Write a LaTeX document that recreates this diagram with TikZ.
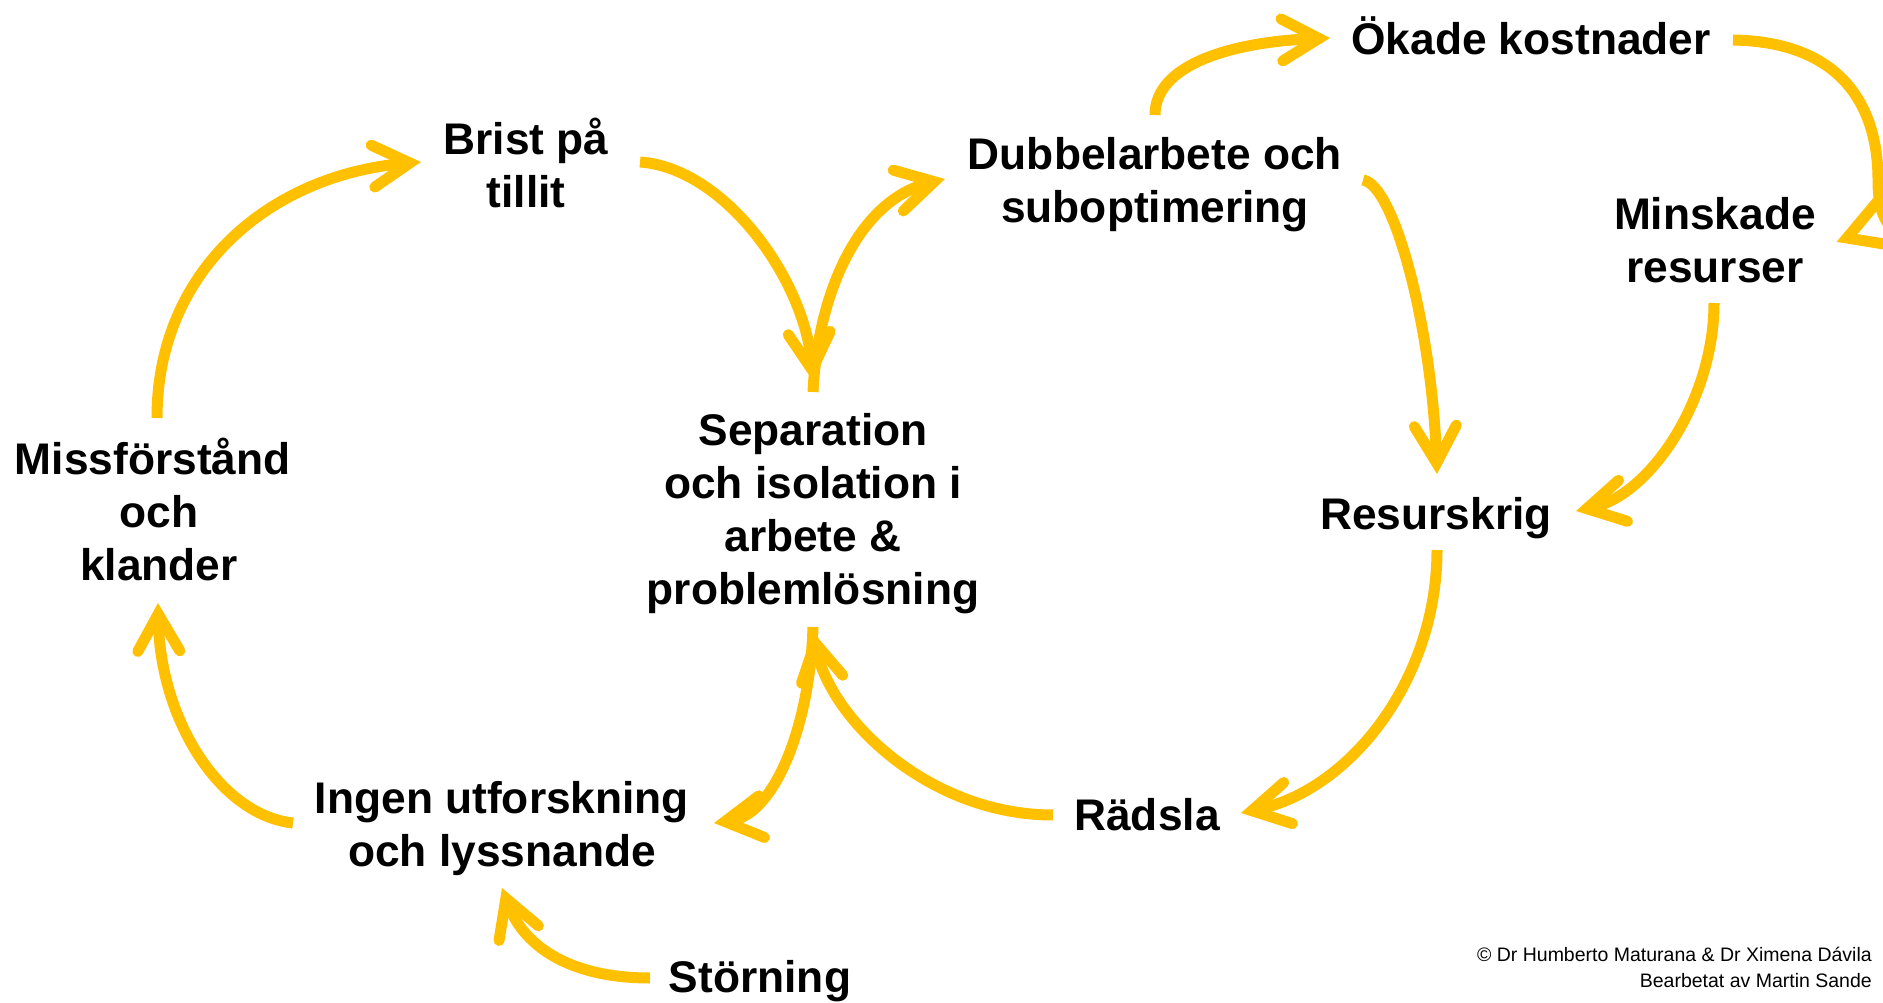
\documentclass[tikz,border=0pt]{standalone}
\usepackage{fontspec}
\setmainfont{Liberation Sans}
\usetikzlibrary{arrows.meta}
\definecolor{gold}{HTML}{FFC000}
\begin{document}
\begin{tikzpicture}[x=1pt,y=-1pt,
  lbl/.style={font=\bfseries\fontsize{44.3}{53}\selectfont, align=center, inner sep=0pt, text=black},
  conn/.style={line width=11pt, draw=gold, -{Straight Barb[length=37pt,width=42pt,line cap=round,line join=miter]}},
  plain/.style={line width=11pt, draw=gold},
  barb/.style={line width=11pt, draw=gold, line cap=round, line join=miter},
  credit/.style={font=\fontsize{19.5}{26}\selectfont, align=right, inner sep=0pt, anchor=north east}]
\fill[white] (0,0) rectangle (1883,1003);
\clip (0,0) rectangle (1883,1003);

\node[lbl] (brist) at (526,163) {Brist på\\tillit};
\node[lbl] (dubbel) at (1155,185) {Dubbelarbete och\\suboptimering};
\node[lbl] (okade) at (1531,36) {Ökade kostnader};
\node[lbl] (minskade) at (1715,240) {Minskade\\resurser};
\node[lbl] (resurs) at (1436,518) {Resurskrig};
\node[lbl] (radsla) at (1147,815) {Rädsla};
\node[lbl] (sep) at (813,514) {Separation\\och isolation i\\arbete \&\\problemlösning};
\node[lbl] (miss) at (159,509) {Missförstånd\hspace*{0.28em}\\och\\klander};
\node[lbl] (ingen) at (502,829) {Ingen utforskning\\och lyssnande};
\node[lbl] (storning) at (760,981) {Störning};
\node[credit] (credit) at (1872,947) {© Dr Humberto Maturana \& Dr Ximena Dávila\\Bearbetat av Martin Sande};

% Missförstånd -> Brist på tillit
\draw[conn] ([shift={(-2,-91)}]miss.center) .. controls +(0,-148) and +(-151,13) .. ([shift={(-105,-1)}]brist.center);
% Brist på tillit -> Separation
\draw[conn] ([shift={(114,-1)}]brist.center) .. controls +(85,6) and +(-8,-101) .. ([shift={(0,-133)}]sep.center);
% Separation -> Dubbelarbete
\draw[conn] ([shift={(0,-122)}]sep.center) .. controls +(5,-102) and +(-85,21) .. ([shift={(-210,-6)}]dubbel.center);
% Dubbelarbete -> Ökade kostnader
\draw[conn] ([shift={(0,-70)}]dubbel.center) .. controls +(0,-50) and +(-100,4) .. ([shift={(-201,2)}]okade.center);
% Ökade kostnader -> Minskade resurser (runs past the right edge)
\draw[plain] ([shift={(202,4)}]okade.center) .. controls +(112,2) and (1878,110) .. (1878,180) .. controls (1878,215) and (1888,230) .. (1905,236);
\draw[barb] ([shift={(168,-45)}]minskade.center) -- ([shift={(132,-2)}]minskade.center) -- ([shift={(175,5)}]minskade.center);
% Minskade resurser -> Resurskrig
\draw[conn] ([shift={(-1,63)}]minskade.center) .. controls +(0,97) and +(74,-16) .. ([shift={(140,-7)}]resurs.center);
% Dubbelarbete -> Resurskrig
\draw[conn] ([shift={(208,-5)}]dubbel.center) .. controls +(32,5) and +(-5,-144) .. ([shift={(1,-44)}]resurs.center);
% Resurskrig -> Rädsla
\draw[conn] ([shift={(1,32)}]resurs.center) .. controls +(0,130) and +(109,-23) .. ([shift={(94,-2)}]radsla.center);
% Rädsla -> Separation
\draw[conn] ([shift={(-94,0)}]radsla.center) .. controls +(-123,0) and +(17,88) .. ([shift={(0,118)}]sep.center);
% Separation -> Ingen utforskning
\draw[conn] ([shift={(0,113)}]sep.center) .. controls +(-3,100) and +(60,-8) .. ([shift={(212,-6)}]ingen.center);
% Ingen utforskning -> Missförstånd
\draw[conn] ([shift={(-209,-6)}]ingen.center) .. controls +(-73,-8) and +(2,117) .. ([shift={(-1,94)}]miss.center);
% Störning -> Ingen utforskning
\draw[conn] ([shift={(-110,-3)}]storning.center) .. controls +(-75,0) and +(23,62) .. ([shift={(0,59)}]ingen.center);
\end{tikzpicture}
\end{document}
